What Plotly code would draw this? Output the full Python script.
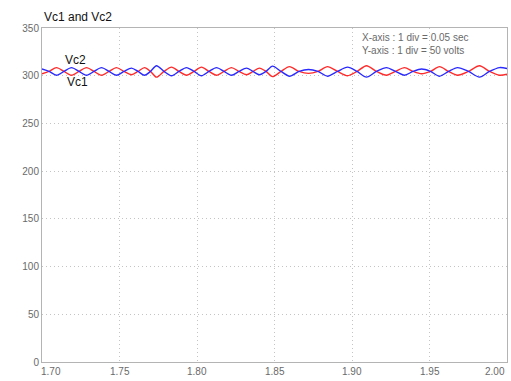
import plotly.graph_objects as go

# Capacitor voltages Vc1 / Vc2 over the 1.70 s - 2.00 s window
time_s = [
    1.70000, 1.70452, 1.70935, 1.71419, 1.71903, 1.72387, 1.72871, 1.73355,
    1.73839, 1.74323, 1.74806, 1.75290, 1.75774, 1.76194, 1.76613, 1.77000,
    1.77387, 1.77871, 1.78355, 1.78839, 1.79323, 1.79806, 1.80290, 1.80774,
    1.81258, 1.81742, 1.82226, 1.82710, 1.83194, 1.83613, 1.84032, 1.84452,
    1.84871, 1.85419, 1.85968, 1.86581, 1.87194, 1.87806, 1.88419, 1.89065,
    1.89710, 1.90323, 1.90935, 1.91581, 1.92226, 1.92806, 1.93387, 1.93935,
    1.94484, 1.95065, 1.95645, 1.96226, 1.96806, 1.97516, 1.98226, 1.98871,
    1.99516, 2.00000,
]
vc1 = [
    302.0, 304.5, 308.5, 304.5, 300.5, 304.5, 308.5, 304.5,
    300.5, 304.5, 308.5, 304.5, 301.0, 304.5, 308.5, 304.5,
    298.5, 304.5, 309.0, 304.5, 300.5, 304.5, 309.0, 304.5,
    300.5, 304.5, 308.5, 304.5, 301.0, 304.5, 308.0, 304.5,
    299.0, 304.5, 309.5, 304.5, 302.5, 304.5, 309.5, 304.5,
    300.0, 304.5, 310.5, 304.5, 300.5, 304.5, 308.5, 304.5,
    302.0, 304.5, 309.5, 304.5, 300.5, 304.5, 310.5, 304.5,
    300.5, 301.5,
]
vc2 = [
    307.0, 304.5, 300.5, 304.5, 308.5, 304.5, 300.5, 304.5,
    308.5, 304.5, 300.5, 304.5, 308.0, 304.5, 300.5, 304.5,
    310.5, 304.5, 300.0, 304.5, 308.5, 304.5, 300.0, 304.5,
    308.5, 304.5, 300.5, 304.5, 308.0, 304.5, 301.0, 304.5,
    310.0, 304.5, 299.5, 304.5, 306.5, 304.5, 299.5, 304.5,
    309.0, 304.5, 298.5, 304.5, 308.5, 304.5, 300.5, 304.5,
    307.0, 304.5, 299.5, 304.5, 308.5, 304.5, 298.5, 304.5,
    308.5, 307.5,
]

x_ticks = [1.70, 1.75, 1.80, 1.85, 1.90, 1.95, 2.00]
x_tick_labels = ["1.70", "1.75", "1.80", "1.85", "1.90", "1.95", "2.00"]
y_ticks = [0, 50, 100, 150, 200, 250, 300, 350]

FONT = "Liberation Sans, Arial, sans-serif"
GRID = "#c4c4c4"
GRID_DASH = "1px,3px"
FRAME = "#b4b4b4"
TICK_TXT = "#6a6a6a"

fig = go.Figure()
fig.add_trace(go.Scatter(x=time_s, y=vc1, mode="lines", name="Vc1",
                         line=dict(color="#ff2a2a", width=1.4, shape="spline",
                                   smoothing=0.8)))
fig.add_trace(go.Scatter(x=time_s, y=vc2, mode="lines", name="Vc2",
                         line=dict(color="#2a2aff", width=1.4, shape="spline",
                                   smoothing=0.8)))

annotations = []
# x tick labels kept inside the canvas at both ends
for i, (v, lab) in enumerate(zip(x_ticks, x_tick_labels)):
    anchor = "left" if i == 0 else ("right" if i == len(x_ticks) - 1 else "center")
    annotations.append(dict(x=v, y=0, xref="x", yref="paper", text=lab,
                            showarrow=False, xanchor=anchor, yanchor="top",
                            xshift=-3 if i == 0 else 0, yshift=-2,
                            font=dict(family=FONT, size=10, color=TICK_TXT)))

annotations += [
    dict(x=0, y=1, xref="paper", yref="paper", text="Vc1 and Vc2",
         showarrow=False, xanchor="left", yanchor="bottom", yshift=2,
         font=dict(family=FONT, size=12, color="#111111")),
    dict(x=0.683, y=0.995, xref="paper", yref="paper",
         text="X-axis : 1 div = 0.05 sec<br>Y-axis : 1 div = 50 volts",
         showarrow=False, xanchor="left", yanchor="top", align="left",
         font=dict(family=FONT, size=10, color="#6a6a6a")),
    dict(x=1.7219, y=316.5, xref="x", yref="y", text="Vc2", showarrow=False,
         xanchor="center", yanchor="middle",
         font=dict(family=FONT, size=12, color="#111111")),
    dict(x=1.7232, y=293.5, xref="x", yref="y", text="Vc1", showarrow=False,
         xanchor="center", yanchor="middle",
         font=dict(family=FONT, size=12, color="#111111")),
]

fig.update_layout(
    width=511, height=381,
    margin=dict(l=42, r=4, t=28, b=19),
    paper_bgcolor="white", plot_bgcolor="white",
    showlegend=False,
    annotations=annotations,
    xaxis=dict(range=[1.70, 2.00], tickvals=x_ticks, showticklabels=False,
               showgrid=True, gridcolor=GRID, griddash=GRID_DASH, gridwidth=1,
               showline=True, linecolor=FRAME, linewidth=1, mirror=True,
               zeroline=False, ticks=""),
    yaxis=dict(range=[0, 350], tickvals=y_ticks, showgrid=True,
               gridcolor=GRID, griddash=GRID_DASH, gridwidth=1,
               showline=True, linecolor=FRAME, linewidth=1, mirror=True,
               zeroline=False, ticks="",
               tickfont=dict(family=FONT, size=10, color=TICK_TXT)),
)

fig.write_html("out.html")
